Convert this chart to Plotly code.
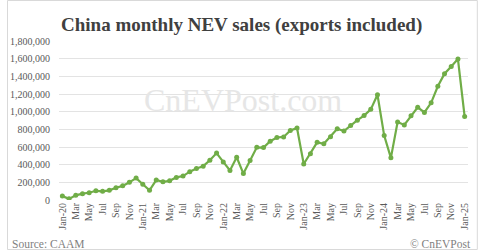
import plotly.graph_objects as go

months = ["Jan","Feb","Mar","Apr","May","Jun","Jul","Aug","Sep","Oct","Nov","Dec"]
categories = [f"{m}-{y}" for y in ["20","21","22","23","24"] for m in months] + ["Jan-25"]

sales = [
    44000, 13000, 53000, 72000, 82000, 104000, 98000, 109000, 138000, 160000, 200000, 248000,
    179000, 110000, 226000, 206000, 217000, 256000, 271000, 321000, 357000, 383000, 450000, 531000,
    431000, 334000, 484000, 299000, 447000, 596000, 593000, 666000, 708000, 714000, 786000, 814000,
    408000, 525000, 653000, 636000, 717000, 806000, 780000, 843000, 904000, 956000, 1026000, 1191000,
    729000, 477000, 883000, 850000, 955000, 1049000, 991000, 1100000, 1287000, 1430000, 1512000, 1596000,
    944000,
]

tick_idx = list(range(0, len(categories), 2))
tick_text = [categories[i] if categories[i].startswith("Jan") else categories[i][:3] for i in tick_idx]

y_ticks = list(range(0, 1800001, 200000))
y_text = [f"{v:,}" for v in y_ticks]

title = "China monthly NEV sales (exports included)"
serif = "Liberation Serif"

PH = 159.0
PW = 417.0

fig = go.Figure()
fig.add_trace(go.Scatter(
    x=list(range(len(categories))), y=sales, mode="lines+markers",
    line=dict(color="#70AD47", width=2.2),
    marker=dict(color="#70AD47", size=5),
    hoverinfo="skip",
))

fig.update_layout(
    width=480, height=250,
    margin=dict(l=53, r=10, t=41, b=50),
    paper_bgcolor="white", plot_bgcolor="white",
    showlegend=False,
    font=dict(family=serif, color="#595959", size=10),
    xaxis=dict(
        range=[-0.5, len(categories) - 0.5],
        tickmode="array", tickvals=tick_idx, ticktext=tick_text,
        tickangle=-90, showgrid=False, zeroline=False,
        showline=False, ticks="",
        tickfont=dict(family=serif, size=10, color="#595959"),
    ),
    yaxis=dict(
        range=[0, 1800000],
        tickmode="array", tickvals=y_ticks, ticktext=y_text,
        showgrid=True, gridcolor="#e3e3e3", gridwidth=1,
        zeroline=False, showline=False, ticks="",
        ticklabelstandoff=8,
        tickfont=dict(family=serif, size=10, color="#595959"),
    ),
    annotations=[
        dict(text=title, xref="paper", yref="paper", x=0.445, y=1 + 16 / PH,
             xanchor="center", yanchor="middle", showarrow=False,
             font=dict(family=serif, size=19, color="#404040", weight="bold")),
        dict(text="CnEVPost.com", xref="paper", yref="paper", x=0.45, y=0.63,
             xanchor="center", yanchor="middle", showarrow=False,
             font=dict(family=serif, size=32, color="#e6e6e6")),
        dict(text="Source: CAAM", xref="paper", yref="paper", x=-50 / PW, y=-43.5 / PH,
             xanchor="left", yanchor="middle", showarrow=False,
             font=dict(family=serif, size=11.5, color="#7f7f7f")),
        dict(text="© CnEVPost", xref="paper", yref="paper", x=1 + 5 / PW, y=-43.5 / PH,
             xanchor="right", yanchor="middle", showarrow=False,
             font=dict(family=serif, size=11.5, color="#7f7f7f")),
    ],
    shapes=[
        dict(type="rect", xref="paper", yref="paper",
             x0=-52.5 / PW, x1=1 + 9.5 / PW, y0=-49.5 / PH, y1=1 + 40.5 / PH,
             line=dict(color="#d9d9d9", width=1), fillcolor="rgba(0,0,0,0)", layer="below"),
    ],
)

fig.write_html("out.html")
